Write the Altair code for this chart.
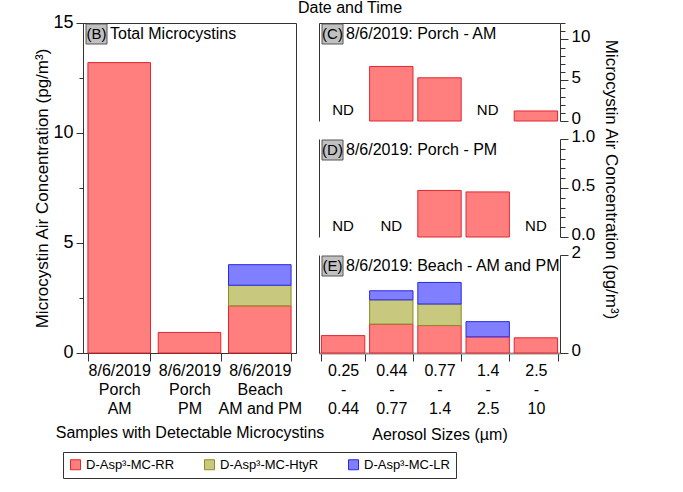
import altair as alt
import pandas as pd

FONT = "Liberation Sans"
INK = "#333333"

# congener series, bottom-to-top stacking order
series = ["D-Asp³-MC-RR", "D-Asp³-MC-HtyR", "D-Asp³-MC-LR"]
fill_colors = ["#FF7F7F", "#C8C87E", "#7F7FFF"]
stroke_colors = ["#E2262E", "#8C8C24", "#2828E6"]

# aerosol size bins (µm) and sampling events; "|" separates label lines
sizes = ["0.25|-|0.44", "0.44|-|0.77", "0.77|-|1.4", "1.4|-|2.5", "2.5|-|10"]
samples = ["8/6/2019|Porch|AM", "8/6/2019|Porch|PM", "8/6/2019|Beach|AM and PM"]

# concentrations per size bin (pg/m³); None = not detected
porch_am_rr = [None, 6.68, 5.29, None, 1.23]
porch_pm_rr = [None, None, 0.475, 0.46, None]
beach_rr = [0.355, 0.59, 0.56, 0.33, 0.31]
beach_htyr = [None, 0.495, 0.44, None, None]
beach_lr = [None, 0.185, 0.44, 0.31, None]

measurements = [
    (samples[0], 0, porch_am_rr),
    (samples[1], 0, porch_pm_rr),
    (samples[2], 0, beach_rr),
    (samples[2], 1, beach_htyr),
    (samples[2], 2, beach_lr),
]
records = []
for sample, k, values in measurements:
    for size, v in zip(sizes, values):
        records.append({"sample": sample, "size": size, "series": series[k],
                        "rank": k, "value": v})
df = pd.DataFrame(records)
found = df[df["value"].notna()]


def not_detected(sample):
    sub = df[df["sample"] == sample]
    hit = sub.groupby("size")["value"].apply(lambda s: s.notna().any())
    missing = [s for s in sizes if not hit[s]]
    return pd.DataFrame({"size": pd.Series(missing, dtype=object),
                         "zero": pd.Series([0.0] * len(missing), dtype=float),
                         "label": pd.Series(["ND"] * len(missing), dtype=object)})


legend = alt.Legend(
    title=None, orient="none", legendX=-20, legendY=429,
    direction="horizontal", columns=3, columnPadding=27,
    symbolType="square", symbolSize=100, symbolStrokeWidth=1,
    labelFont=FONT, labelFontSize=13, labelOffset=4,
    padding=6, strokeColor=INK, fillColor="white",
)
fill_enc = alt.Fill("series:N", scale=alt.Scale(domain=series, range=fill_colors), legend=legend)
stroke_enc = alt.Stroke("series:N", scale=alt.Scale(domain=series, range=stroke_colors), legend=legend)


def minor_axis(values, test, fmt, orient, major, minor, font_size, **kw):
    return alt.Axis(
        orient=orient, values=values, format=fmt,
        labelExpr=f"({test}) ? datum.label : ''",
        tickSize={"condition": {"test": test, "value": major}, "value": minor},
        labelFontSize=font_size, labelPadding=3, grid=False, labelFlush=False, **kw,
    )


def band_axis(title, domain_color, domain_width, title_pad):
    return alt.Axis(
        title=title, labelExpr="split(datum.label, '|')", labelAngle=0,
        tickBand="extent", tickSize=8, labelPadding=1, labelLineHeight=19,
        labelFontSize=16, titleFontSize=16, titlePadding=title_pad,
        domainColor=domain_color, domainWidth=domain_width,
    )


def panel_tag(letter, caption):
    d = pd.DataFrame({"letter": [f"({letter})"], "caption": [caption]})
    base = alt.Chart(d)
    box = base.mark_rect(fill="#C0C0C0", stroke="#555555", strokeWidth=1).encode(
        x=alt.value(3), x2=alt.value(24), y=alt.value(1), y2=alt.value(21))
    tag = base.mark_text(fontSize=15, align="center", baseline="alphabetic").encode(
        x=alt.value(13.5), y=alt.value(16), text="letter:N")
    cap = base.mark_text(fontSize=16, align="left", baseline="alphabetic").encode(
        x=alt.value(27), y=alt.value(16), text="caption:N")
    return [box, tag, cap]


# ---- (B) totals per sampling event ----
b_bars = alt.Chart(found).mark_bar(strokeWidth=1).encode(
    x=alt.X("sample:N", sort=samples,
            scale=alt.Scale(domain=samples, paddingInner=0.11, paddingOuter=0.07),
            axis=band_axis("Samples with Detectable Microcystins", INK, 1, 8)),
    y=alt.Y("sum(value):Q", stack="zero",
            scale=alt.Scale(domain=[0, 15], nice=False),
            axis=minor_axis([0, 2.5, 5, 7.5, 10, 12.5, 15], "datum.value % 5 == 0", "d",
                            "left", 7, 4, 18,
                            title="Microcystin Air Concentration (pg/m³)",
                            titleFontSize=17, titlePadding=1, labelOffset=-1)),
    fill=fill_enc,
    stroke=stroke_enc,
    order=alt.Order("rank:Q"),
)
panel_b = alt.layer(b_bars, *panel_tag("B", "Total Microcystins")).properties(
    width=213, height=330,
    view=alt.ViewBackground(stroke=INK, strokeWidth=1),
)


# ---- (C)-(E) size-resolved panels ----
def size_panel(sample, ydom, yvals, test, fmt, letter, caption,
               x_axis=None, y_title=None, extra=()):
    data = found[found["sample"] == sample]
    nd = not_detected(sample)
    xs = alt.Scale(domain=sizes, paddingInner=0.1, paddingOuter=0.05)
    if y_title:
        ykw = dict(title=y_title, titleFontSize=17, titlePadding=7, titleY=40)
    else:
        ykw = dict(title=None)
    bars = alt.Chart(data).mark_bar(strokeWidth=1).encode(
        x=alt.X("size:N", sort=sizes, scale=xs, axis=x_axis),
        y=alt.Y("value:Q", stack="zero", scale=alt.Scale(domain=ydom, nice=False),
                axis=minor_axis(yvals, test, fmt, "right", 8, 5, 17, labelOffset=-3, **ykw)),
        fill=fill_enc,
        stroke=stroke_enc,
        order=alt.Order("rank:Q"),
    )
    nd_text = alt.Chart(nd).mark_text(fontSize=15, baseline="alphabetic", dy=-6).encode(
        x=alt.X("size:N", sort=sizes, axis=x_axis),
        y=alt.Y("zero:Q", axis=alt.Axis(orient="left", labels=False, ticks=False,
                                        title=None, grid=False)),
        text="label:N",
    )
    return alt.layer(bars, nd_text, *panel_tag(letter, caption), *extra).resolve_axis(
        y="independent").properties(width=241, height=98)


top_line = alt.Axis(orient="top", title=None, labels=False, ticks=False, domain=True)
date_title = alt.Chart(pd.DataFrame({"t": ["Date and Time"]})).mark_text(
    fontSize=16, align="center", baseline="alphabetic").encode(
    x=alt.value(31), y=alt.value(-10), text="t:N")

panel_c = size_panel(samples[0], [0, 12], list(range(13)), "datum.value % 5 == 0", "d",
                     "C", "8/6/2019: Porch - AM", x_axis=top_line, extra=(date_title,))
panel_d = size_panel(samples[1], [0, 1], [round(0.1 * i, 1) for i in range(11)],
                     "round(datum.value * 10) % 5 == 0", ".1f",
                     "D", "8/6/2019: Porch - PM",
                     y_title="Microcystin Air Concentration (pg/m³)")
panel_e = size_panel(samples[2], [0, 2], [0, 0.25, 0.5, 0.75, 1, 1.25, 1.5, 1.75, 2],
                     "datum.value % 1 == 0", "d",
                     "E", "8/6/2019: Beach - AM and PM",
                     x_axis=band_axis("Aerosol Sizes (µm)", "#8F8F8F", 2, 10))

right = alt.vconcat(panel_c, panel_d, panel_e, spacing=18, bounds="flush")
chart = alt.hconcat(panel_b, right, spacing=23, bounds="flush").properties(
    padding={"left": 33, "top": -1, "right": 5, "bottom": 5},
).configure(font=FONT).configure_view(stroke="transparent").configure_axis(
    labelFont=FONT, titleFont=FONT, labelColor="black", titleColor="black",
    titleFontWeight="normal", domainColor=INK, tickColor=INK, tickWidth=1,
    domainWidth=1, grid=False,
).configure_text(font=FONT, color="black")

chart.save("out.html", embed_options={"renderer": "svg", "actions": False})
